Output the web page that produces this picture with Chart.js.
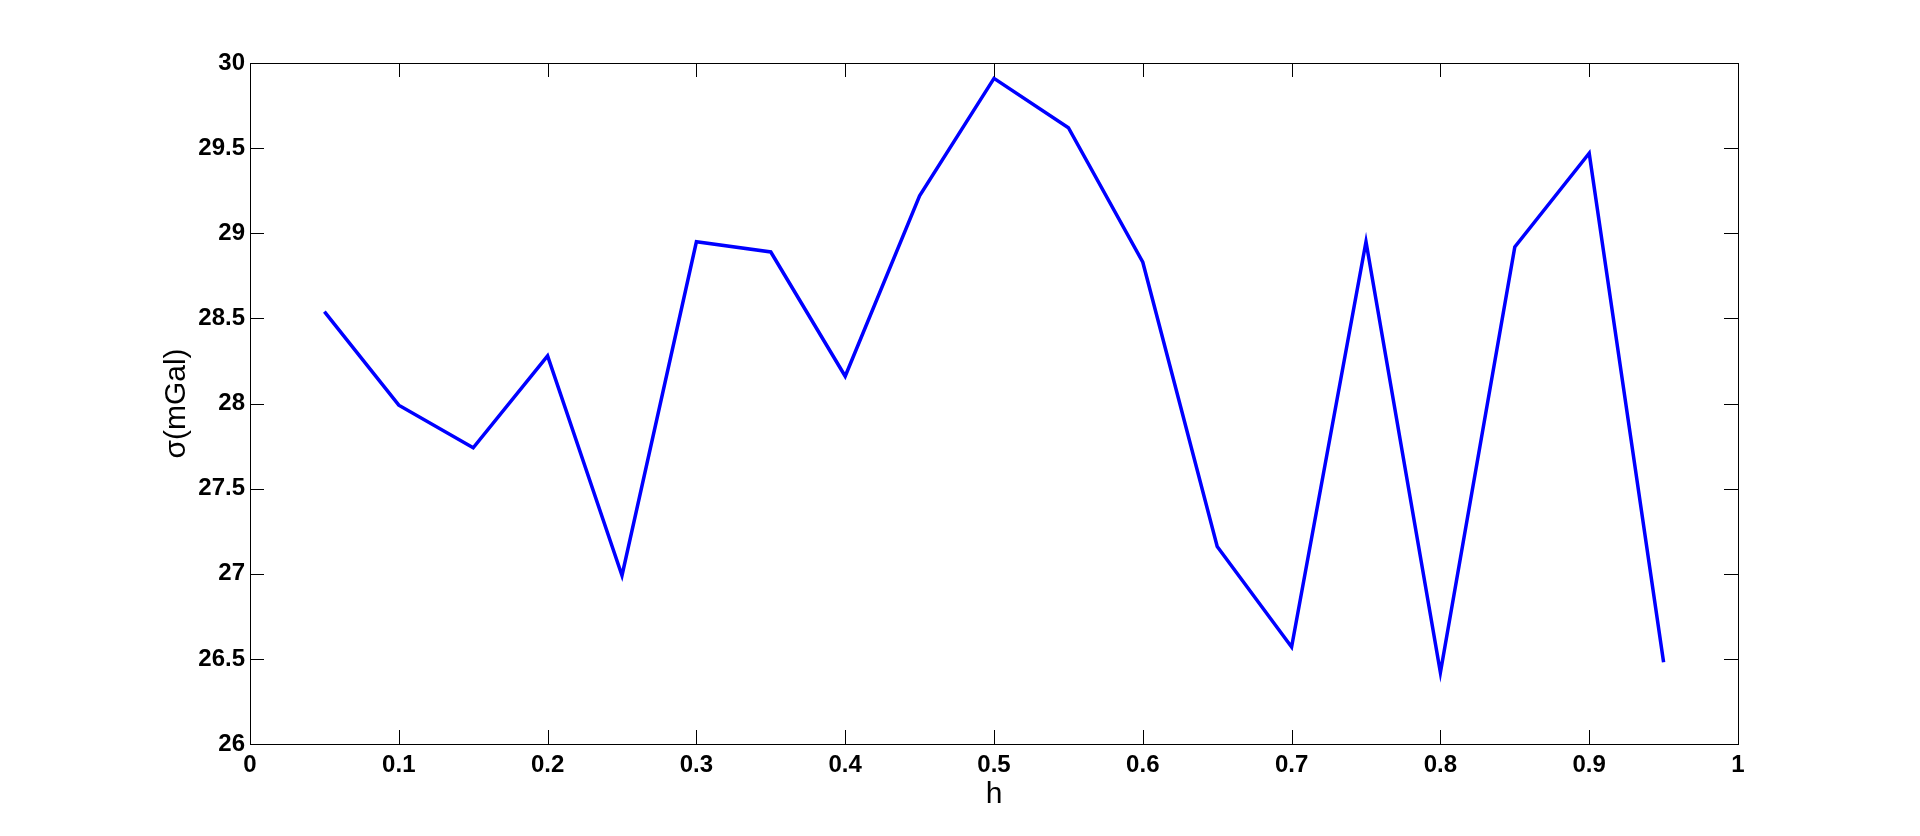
<!DOCTYPE html>
<html>
<head>
<meta charset="utf-8">
<script src="https://cdn.jsdelivr.net/npm/chart.js@4.4.1/dist/chart.umd.min.js"></script>
<style>
  html, body { margin: 0; padding: 0; background: #ffffff; }
  canvas { display: block; }
</style>
</head>
<body>
<canvas id="sigmaChart" width="1920" height="836"></canvas>
<script>
// h values and sigma (mGal)
var hValues = [0.05, 0.10, 0.15, 0.20, 0.25, 0.30, 0.35, 0.40, 0.45, 0.50,
               0.55, 0.60, 0.65, 0.70, 0.75, 0.80, 0.85, 0.90, 0.95];
var sigmaValues = [28.54, 27.99, 27.74, 28.28, 26.99, 28.95, 28.89, 28.16, 29.22, 29.91,
                   29.62, 28.83, 27.16, 26.57, 28.95, 26.42, 28.92, 29.47, 26.48];

// axis ticks
var xTickValues = [0, 0.1, 0.2, 0.3, 0.4, 0.5, 0.6, 0.7, 0.8, 0.9, 1];
var xTickLabels = ['0', '0.1', '0.2', '0.3', '0.4', '0.5', '0.6', '0.7', '0.8', '0.9', '1'];
var yTickValues = [26, 26.5, 27, 27.5, 28, 28.5, 29, 29.5, 30];
var yTickLabels = ['26', '26.5', '27', '27.5', '28', '28.5', '29', '29.5', '30'];

var points = hValues.map(function (h, i) { return { x: h, y: sigmaValues[i] }; });

// matlab style box with inward tick marks on all four sides
var boxPlugin = {
    id: 'matlabBox',
    afterDraw: function (chart) {
        var ctx = chart.ctx;
        var area = chart.chartArea;
        var xs = chart.scales.x;
        var ys = chart.scales.y;
        var len = 14;
        ctx.save();
        ctx.strokeStyle = '#000000';
        ctx.lineWidth = 1;
        ctx.strokeRect(area.left + 0.5, area.top + 0.5, area.right - area.left, area.bottom - area.top);
        ctx.beginPath();
        xTickValues.forEach(function (v) {
            var px = Math.round(xs.getPixelForValue(v)) + 0.5;
            ctx.moveTo(px, area.bottom);
            ctx.lineTo(px, area.bottom - len);
            ctx.moveTo(px, area.top);
            ctx.lineTo(px, area.top + len);
        });
        yTickValues.forEach(function (v) {
            var py = Math.round(ys.getPixelForValue(v)) + 0.5;
            ctx.moveTo(area.left, py);
            ctx.lineTo(area.left + len, py);
            ctx.moveTo(area.right, py);
            ctx.lineTo(area.right - len, py);
        });
        ctx.stroke();
        ctx.restore();
    }
};

var ctx = document.getElementById('sigmaChart').getContext('2d');
var chart = new Chart(ctx, {
    type: 'line',
    data: {
        datasets: [
            {
                label: 'sigma',
                data: points,
                borderColor: '#0000ff',
                backgroundColor: '#0000ff',
                borderWidth: 3.5,
                pointRadius: 0,
                tension: 0,
                fill: false
            }
        ]
    },
    options: {
        responsive: false,
        animation: false,
        devicePixelRatio: 1,
        layout: {
            padding: { left: 0, top: 63, right: 182, bottom: 0 }
        },
        plugins: {
            legend: { display: false },
            tooltip: { enabled: false }
        },
        scales: {
            x: {
                type: 'linear',
                min: 0,
                max: 1,
                afterBuildTicks: function (scale) {
                    scale.ticks = xTickValues.map(function (v) { return { value: v }; });
                },
                afterFit: function (scale) { scale.height = 92; },
                grid: { display: false, drawTicks: false },
                border: { display: false },
                ticks: {
                    padding: 7,
                    maxRotation: 0,
                    color: '#000000',
                    font: { family: 'Liberation Sans', size: 24, weight: 'bold' },
                    callback: function (value, index) { return xTickLabels[index]; }
                },
                title: {
                    display: true,
                    text: 'h',
                    color: '#000000',
                    font: { family: 'Liberation Sans', size: 30 },
                    padding: { top: 0, bottom: 23 }
                }
            },
            y: {
                type: 'linear',
                min: 26,
                max: 30,
                afterBuildTicks: function (scale) {
                    scale.ticks = yTickValues.map(function (v) { return { value: v }; });
                },
                afterFit: function (scale) { scale.width = 250; },
                grid: { display: false, drawTicks: false },
                border: { display: false },
                ticks: {
                    padding: 5,
                    color: '#000000',
                    font: { family: 'Liberation Sans', size: 24, weight: 'bold' },
                    callback: function (value, index) { return yTickLabels[index]; }
                },
                title: {
                    display: true,
                    text: 'σ(mGal)',
                    color: '#000000',
                    font: { family: 'Liberation Sans', size: 30 },
                    padding: { top: 159, bottom: 0 }
                }
            }
        }
    },
    plugins: [boxPlugin]
});
</script>
</body>
</html>
